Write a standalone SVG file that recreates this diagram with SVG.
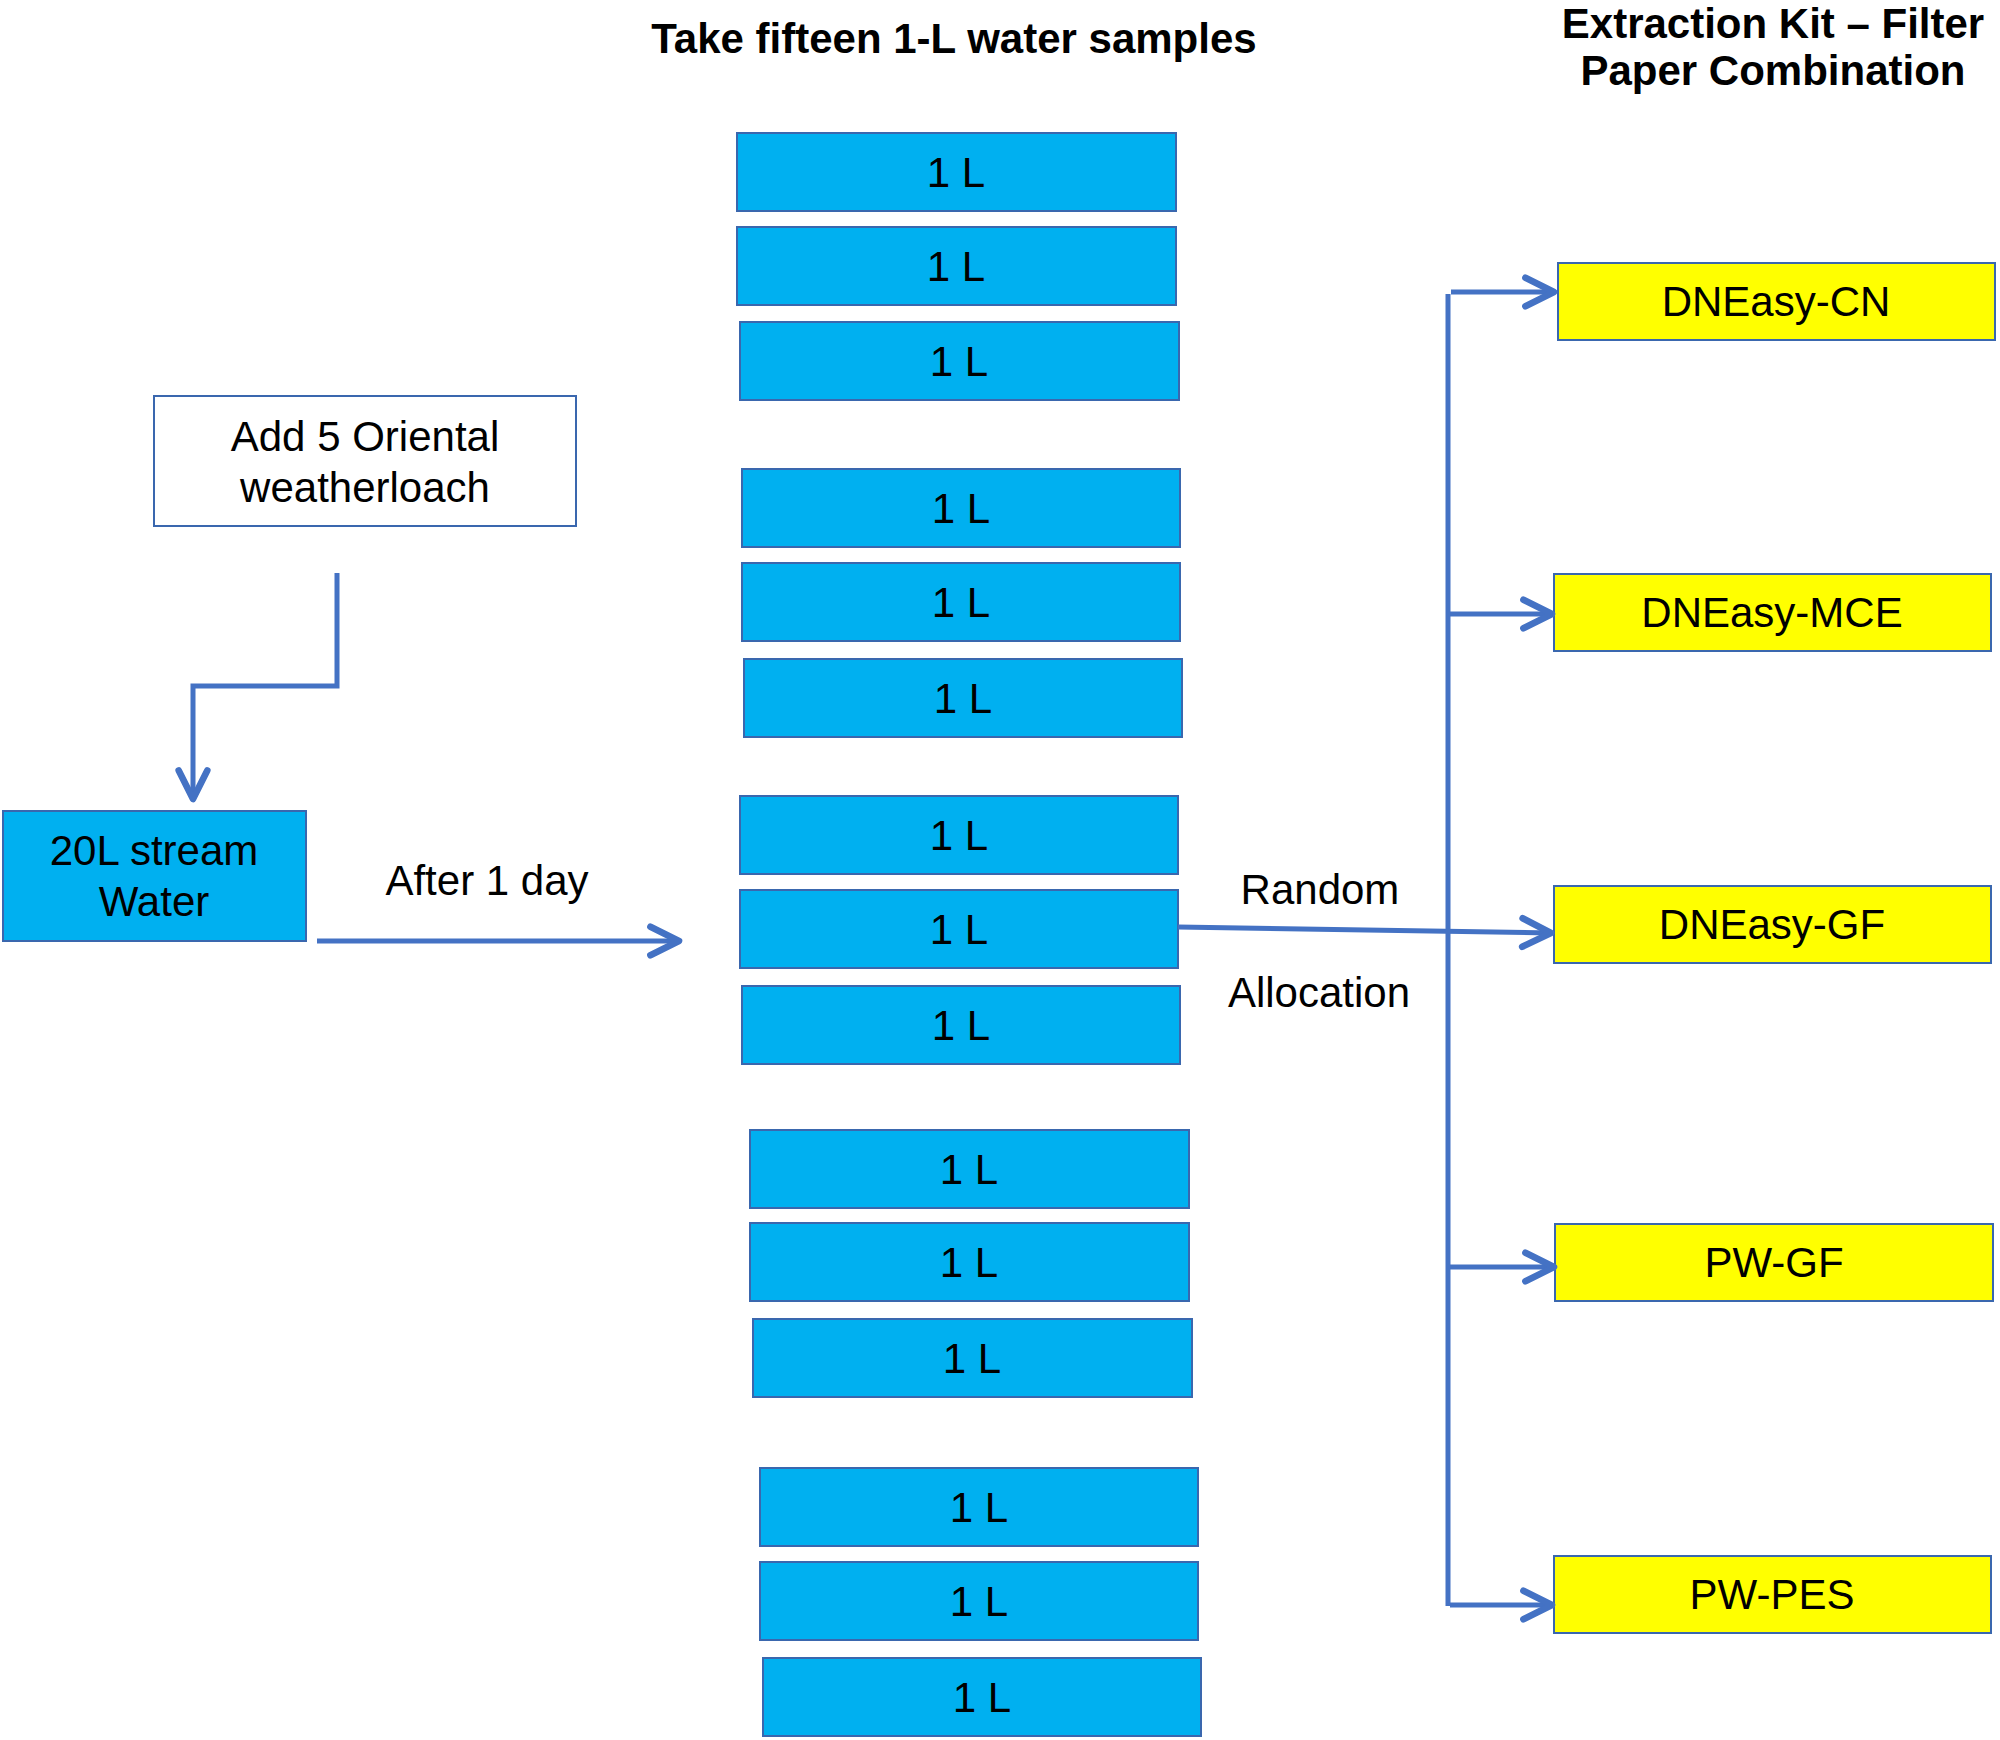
<svg xmlns="http://www.w3.org/2000/svg" width="2000" height="1740" viewBox="0 0 2000 1740">
<style>
  text { font-family: "Liberation Sans", Arial, sans-serif; fill: #000; text-anchor: middle; }
  .t { font-size: 42px; }
  .title { font-size: 42px; font-weight: bold; }
  .sample { fill: #00B0F0; stroke: #3A67AE; stroke-width: 2; }
  .kit { fill: #FFFF00; stroke: #3A67AE; stroke-width: 2; }
  .plain { fill: #FFFFFF; stroke: #3A67AE; stroke-width: 2; }
  .conn path { fill: none; stroke: #4472C4; stroke-width: 5; }
</style>
<defs>
  <marker id="arr" markerUnits="userSpaceOnUse" markerWidth="44" markerHeight="44" viewBox="-32 -20 40 40" refX="0" refY="0" orient="auto">
    <path d="M-26,-13 L0,0 L-26,13" fill="none" stroke="#4472C4" stroke-width="6" stroke-linecap="round" stroke-linejoin="round"/>
  </marker>
</defs>
<rect width="2000" height="1740" fill="#FFFFFF"/>

<g id="titles">
  <text class="title" x="954" y="53">Take fifteen 1-L water samples</text>
  <text class="title" x="1773" y="38">Extraction Kit – Filter</text>
  <text class="title" x="1773" y="85">Paper Combination</text>
</g>

<g id="node-add">
  <rect class="plain" x="154" y="396" width="422" height="130"/>
  <text class="t" x="365" y="451">Add 5 Oriental</text>
  <text class="t" x="365" y="502">weatherloach</text>
</g>

<g id="node-stream">
  <rect class="sample" x="3" y="811" width="303" height="130"/>
  <text class="t" x="154" y="865">20L stream</text>
  <text class="t" x="154" y="916">Water</text>
</g>

<g id="label-after">
  <text class="t" x="487" y="895">After 1 day</text>
</g>
<g id="label-random">
  <text class="t" x="1320" y="904">Random</text>
  <text class="t" x="1319" y="1007">Allocation</text>
</g>

<g id="samples">
  <g id="s1"><rect class="sample" x="737" y="133" width="439" height="78"/><text class="t" x="956" y="187">1 L</text></g>
  <g id="s2"><rect class="sample" x="737" y="227" width="439" height="78"/><text class="t" x="956" y="281">1 L</text></g>
  <g id="s3"><rect class="sample" x="740" y="322" width="439" height="78"/><text class="t" x="959" y="376">1 L</text></g>
  <g id="s4"><rect class="sample" x="742" y="469" width="438" height="78"/><text class="t" x="961" y="523">1 L</text></g>
  <g id="s5"><rect class="sample" x="742" y="563" width="438" height="78"/><text class="t" x="961" y="617">1 L</text></g>
  <g id="s6"><rect class="sample" x="744" y="659" width="438" height="78"/><text class="t" x="963" y="713">1 L</text></g>
  <g id="s7"><rect class="sample" x="740" y="796" width="438" height="78"/><text class="t" x="959" y="850">1 L</text></g>
  <g id="s8"><rect class="sample" x="740" y="890" width="438" height="78"/><text class="t" x="959" y="944">1 L</text></g>
  <g id="s9"><rect class="sample" x="742" y="986" width="438" height="78"/><text class="t" x="961" y="1040">1 L</text></g>
  <g id="s10"><rect class="sample" x="750" y="1130" width="439" height="78"/><text class="t" x="969" y="1184">1 L</text></g>
  <g id="s11"><rect class="sample" x="750" y="1223" width="439" height="78"/><text class="t" x="969" y="1277">1 L</text></g>
  <g id="s12"><rect class="sample" x="753" y="1319" width="439" height="78"/><text class="t" x="972" y="1373">1 L</text></g>
  <g id="s13"><rect class="sample" x="760" y="1468" width="438" height="78"/><text class="t" x="979" y="1522">1 L</text></g>
  <g id="s14"><rect class="sample" x="760" y="1562" width="438" height="78"/><text class="t" x="979" y="1616">1 L</text></g>
  <g id="s15"><rect class="sample" x="763" y="1658" width="438" height="78"/><text class="t" x="982" y="1712">1 L</text></g>
</g>

<g id="kits">
  <g id="k-cn"><rect class="kit" x="1558" y="263" width="437" height="77"/><text class="t" x="1776" y="316">DNEasy-CN</text></g>
  <g id="k-mce"><rect class="kit" x="1554" y="574" width="437" height="77"/><text class="t" x="1772" y="627">DNEasy-MCE</text></g>
  <g id="k-gf"><rect class="kit" x="1554" y="886" width="437" height="77"/><text class="t" x="1772" y="939">DNEasy-GF</text></g>
  <g id="k-pwgf"><rect class="kit" x="1555" y="1224" width="438" height="77"/><text class="t" x="1774" y="1277">PW-GF</text></g>
  <g id="k-pwpes"><rect class="kit" x="1554" y="1556" width="437" height="77"/><text class="t" x="1772" y="1609">PW-PES</text></g>
</g>

<g id="connectors" class="conn">
  <path d="M337,573 V686 H193 V799" marker-end="url(#arr)"/>
  <path d="M317,941 H679" marker-end="url(#arr)"/>
  <path d="M1178,927 L1551,933" marker-end="url(#arr)"/>
  <path d="M1448,294 V1606"/>
  <path d="M1451,292 H1554" marker-end="url(#arr)"/>
  <path d="M1448,614 H1552" marker-end="url(#arr)"/>
  <path d="M1448,1267 H1554" marker-end="url(#arr)"/>
  <path d="M1450,1605 H1552" marker-end="url(#arr)"/>
</g>
</svg>
